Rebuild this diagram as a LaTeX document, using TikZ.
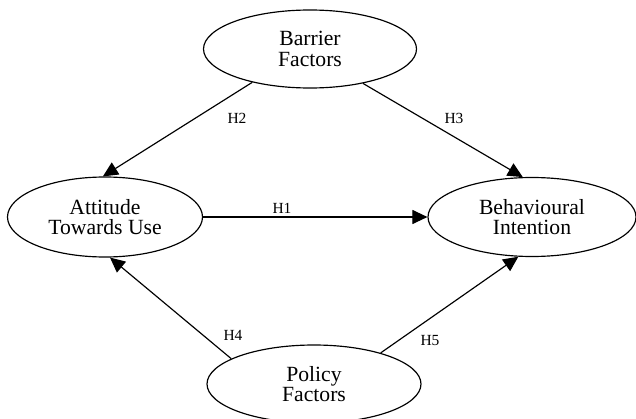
\documentclass[tikz,border=0pt]{standalone}
\usepackage{fontspec}
\setmainfont{Liberation Serif}
\usetikzlibrary{arrows.meta,shapes.geometric}

\begin{document}
\begin{tikzpicture}[x=0.03cm,y=-0.03cm,
factor/.style={draw,ellipse,line width=1pt,inner sep=0pt,align=center,
font=\fontsize{18.5}{17.5}\selectfont},
link/.style={-{Triangle[length=0.45cm,width=0.42cm]},line width=1pt},
hyp/.style={font=\fontsize{13.2}{14}\selectfont,inner sep=0pt}]
\useasboundingbox (0,0) rectangle (636,419);
\node[factor,minimum width=6.39cm,minimum height=2.34cm] (barrier) at (310,49) {Barrier\\Factors};
\node[factor,minimum width=5.85cm,minimum height=2.4cm] (attitude) at (105,217) {Attitude\\Towards Use};
\node[factor,minimum width=6.24cm,minimum height=2.37cm] (intention) at (532,217) {Behavioural\\Intention};
\node[factor,minimum width=6.42cm,minimum height=2.34cm] (policy) at (314,384) {Policy\\Factors};
\draw[link] (attitude.east) -- (intention.west);
\draw[link] (barrier.210) -- (attitude.93);
\draw[link] (barrier.-33.7) -- (intention.103);
\draw[link] (policy.163) -- (attitude.-83);
\draw[link] (policy.25.5) -- (intention.-109);
\node[hyp] (h1) at (282,208) {H1};
\node[hyp] (h2) at (237,118) {H2};
\node[hyp] (h3) at (454,118) {H3};
\node[hyp] (h4) at (233,335) {H4};
\node[hyp] (h5) at (430,341) {H5};
\end{tikzpicture}
\end{document}
